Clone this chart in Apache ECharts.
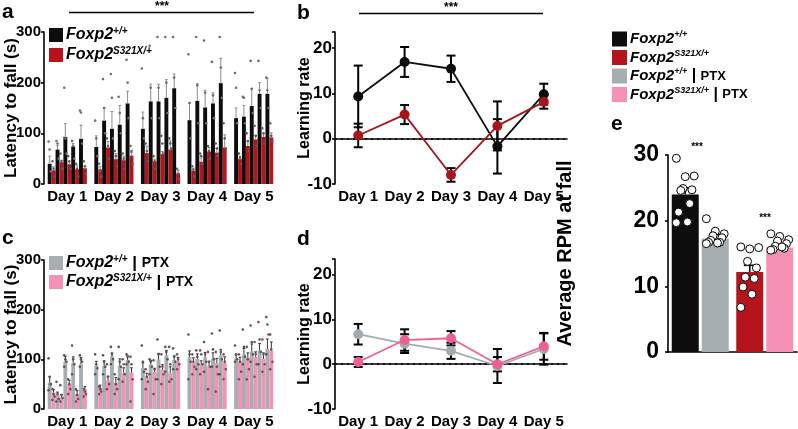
<!DOCTYPE html>
<html><head><meta charset="utf-8">
<script src="https://cdn.jsdelivr.net/npm/echarts@6/dist/echarts.min.js"></script>
<style>html,body{margin:0;padding:0;background:#fff}#c{width:798px;height:429px}</style>
</head><body><div id="c"></div>
<script>
// ---------- DATA ----------
const days = ['Day 1', 'Day 2', 'Day 3', 'Day 4', 'Day 5'];
const latencyTicks = [0, 100, 200, 300];
const rateTicks = [-10, 0, 10, 20];
const rpmTicks = [0, 10, 20, 30];

// panel a: latency to fall, rows = day, cols = trial 1..5
const wtLatency = [
  [40, 68, 93, 74, 89],
  [73, 125, 109, 117, 159],
  [109, 163, 163, 170, 189],
  [126, 164, 151, 159, 199],
  [130, 133, 154, 178, 178]
];
const wtLatencyErr = [
  [15, 8, 26, 6, 27],
  [22, 25, 34, 38, 24],
  [33, 34, 34, 36, 28],
  [34, 34, 34, 21, 49],
  [20, 22, 34, 22, 30]
];
const mutLatency = [
  [27, 43, 39, 29, 31],
  [29, 72, 49, 47, 56],
  [61, 45, 59, 68, 21],
  [26, 44, 64, 62, 72],
  [49, 75, 88, 93, 92]
];
const mutLatencyErr = [
  [7, 4, 5, 8, 4],
  [5, 12, 11, 8, 6],
  [14, 4, 5, 17, 6],
  [5, 7, 8, 9, 25],
  [6, 9, 8, 7, 9]
];
const wtDotsA = [
  [[84, 68, 25], [85, 80, 50], [190, 90, 60], [85, 75, 50], [145, 141, 80]],
  [[125, 90, 55], [207, 150, 100], [217, 170, 90], [172, 140, 100], [245, 200, 130]],
  [[228, 130, 90], [273, 190, 130], [290, 190, 130], [290, 200, 140], [290, 210, 150]],
  [[256, 160, 90], [290, 195, 120], [283, 180, 120], [241, 175, 130], [290, 230, 170]],
  [[219, 190, 120], [172, 170, 120], [243, 188, 140], [243, 185, 150], [210, 185, 150]]
];
const mutDotsA = [
  [[45, 30, 15], [60, 45, 30], [55, 45, 30], [40, 30, 15], [45, 35, 20]],
  [[40, 25, 15], [90, 75, 50], [65, 55, 35], [60, 50, 30], [75, 65, 40]],
  [[80, 65, 45], [55, 45, 30], [95, 80, 60], [90, 80, 70], [30, 20, 10]],
  [[35, 28, 15], [60, 55, 40], [75, 65, 50], [80, 70, 55], [120, 90, 70]],
  [[60, 52, 40], [100, 85, 65], [115, 95, 75], [110, 100, 80], [120, 95, 85]]
];

// panel b: learning rate
const wtRate = [9.3, 16.9, 15.4, -1.7, 9.8];
const wtRateErr = [6.8, 3.3, 2.9, 6.0, 2.3];
const mutRate = [0.7, 5.3, -8.0, 2.8, 8.1];
const mutRateErr = [2.6, 2.1, 1.5, 5.4, 1.5];

// panel c: latency to fall, PTX
const ptxWtLatency = [
  [53, 28, 96, 93, 90],
  [88, 87, 106, 87, 99],
  [83, 90, 100, 108, 99],
  [105, 101, 104, 101, 108],
  [101, 110, 116, 118, 121]
];
const ptxWtLatencyErr = [
  [12, 6, 10, 12, 14],
  [8, 10, 7, 14, 8],
  [10, 8, 12, 10, 8],
  [12, 10, 10, 12, 12],
  [8, 12, 15, 14, 20]
];
const ptxMutLatency = [
  [33, 24, 50, 30, 40],
  [42, 57, 53, 73, 73],
  [64, 74, 79, 73, 96],
  [93, 89, 86, 92, 93],
  [96, 103, 105, 101, 117]
];
const ptxMutLatencyErr = [
  [6, 5, 8, 7, 5],
  [6, 9, 10, 10, 10],
  [8, 8, 10, 12, 8],
  [10, 8, 10, 10, 12],
  [8, 10, 10, 12, 18]
];
const ptxWtDots = [
  [[102, 65, 50, 38], [55, 30, 20, 15], [108, 100, 95, 85], [128, 100, 90, 70], [108, 100, 95, 85]],
  [[110, 90, 82, 70], [108, 95, 85, 70], [125, 110, 100, 90], [125, 95, 85, 60], [110, 105, 95, 90]],
  [[128, 95, 75, 60], [100, 95, 85, 70], [140, 110, 85, 60], [125, 115, 100, 75], [122, 105, 95, 80]],
  [[150, 110, 95, 60], [118, 105, 90, 80], [135, 110, 95, 75], [152, 120, 100, 85], [158, 115, 100, 70]],
  [[128, 110, 100, 95], [160, 125, 105, 90], [168, 135, 110, 95], [175, 140, 115, 90], [185, 170, 150, 110]]
];
const ptxMutDots = [
  [[40, 30, 25, 18], [48, 28, 22, 15], [60, 50, 40, 30], [40, 28, 20, 15], [40, 35, 30, 25]],
  [[45, 40, 35, 30], [90, 65, 50, 40], [70, 50, 40, 30], [100, 90, 70, 55], [105, 90, 60, 15]],
  [[80, 65, 55, 40], [98, 80, 60, 30], [110, 85, 70, 50], [125, 90, 60, 55], [110, 100, 90, 80]],
  [[110, 95, 85, 70], [118, 110, 90, 70], [115, 95, 85, 40], [115, 85, 70, 35], [110, 95, 80, 60]],
  [[110, 95, 75, 60], [125, 100, 80, 60], [135, 110, 90, 65], [140, 110, 90, 75], [150, 120, 95, 80]]
];

// panel d: learning rate, PTX
const ptxWtRate = [6.7, 4.6, 3.0, -0.4, 3.4];
const ptxWtRateErr = [2.3, 2.1, 1.8, 3.8, 3.5];
const ptxMutRate = [0.5, 5.4, 5.8, 0.0, 4.0];
const ptxMutRateErr = [1.1, 2.4, 1.6, 1.6, 3.0];

// panel e: average RPM at fall
const rpmGroups = ['Foxp2+/+', 'Foxp2S321X/+'];
const rpmUntreated = [24.0, 12.2];
const rpmUntreatedErr = [1.0, 1.0];
const rpmPtx = [17.3, 15.9];
const rpmPtxErr = [0.6, 0.5];
const rpmDotsWt = [29.5, 26.7, 26.8, 24.9, 24.7, 24.6, 22.6, 21.3, 19.8, 19.7];
const rpmDotsWtPtx = [20.3, 18.4, 18.0, 17.7, 17.4, 17.0, 16.7, 16.7, 16.6, 16.5];
const rpmDotsMut = [16.0, 15.7, 15.9, 13.8, 12.8, 11.4, 11.2, 9.9, 8.8, 6.8];
const rpmDotsMutPtx = [18.0, 17.6, 17.1, 16.9, 16.5, 16.1, 15.8, 15.6, 16.0, 15.5];

// ---------- STYLE ----------
const FF = 'Liberation Sans, Arial, Helvetica, sans-serif';
const COL = {
  black: '#0d0d0d', red: '#b5141c', gray: '#a7aeb1', pink: '#f591b4',
  redLine: '#a5161c', pinkLine: '#ee6096', grayLine: '#a3abae'
};
const GAP = 0.16;
const NSLOT = 10;

const chart = echarts.init(document.getElementById('c'), null, { renderer: 'canvas' });

function slotGeom(api, d, s) {
  const w = api.size([1, 0])[0];
  const inner = w * (1 - GAP);
  const bw = inner / NSLOT;
  const cx = api.coord([d, 0])[0] - inner / 2 + bw * (s + 0.5);
  return { cx, bw };
}
function barErrRender(color) {
  return function (params, api) {
    const d = api.value(0), s = api.value(1), m = api.value(2), e = api.value(3);
    const g = slotGeom(api, d, s);
    const y0 = api.coord([d, m])[1], y1 = api.coord([d, m + e])[1];
    const hw = g.bw * 0.35;
    return { type: 'group', children: [
      { type: 'line', shape: { x1: g.cx, y1: y0, x2: g.cx, y2: y1 }, style: { stroke: color, lineWidth: 1 } },
      { type: 'line', shape: { x1: g.cx - hw, y1: y1, x2: g.cx + hw, y2: y1 }, style: { stroke: color, lineWidth: 1 } }
    ] };
  };
}
function dotRender(colors) {
  return function (params, api) {
    const d = api.value(0), s = api.value(1), v = api.value(2), k = api.value(3);
    const g = slotGeom(api, d, s);
    const jx = ((k % 3) - 1) * g.bw * 0.28;
    const y = api.coord([d, v])[1];
    return { type: 'circle', shape: { cx: g.cx + jx, cy: y, r: 1.3 }, style: { fill: colors[s % 2] } };
  };
}
function lineErrRender(params, api) {
  const d = api.value(0), m = api.value(1), e = api.value(2);
  const x = api.coord([d, m])[0];
  const yt = api.coord([d, m + e])[1], yb = api.coord([d, m - e])[1];
  const hw = 4.5;
  const st = { stroke: '#000', lineWidth: 2 };
  return { type: 'group', children: [
    { type: 'line', shape: { x1: x, y1: yt, x2: x, y2: yb }, style: st },
    { type: 'line', shape: { x1: x - hw, y1: yt, x2: x + hw, y2: yt }, style: st },
    { type: 'line', shape: { x1: x - hw, y1: yb, x2: x + hw, y2: yb }, style: st }
  ] };
}

function barPanel(gi, wt, wtErr, mut, mutErr, wtDots, mutDots, cW, cM, errColor, dotColors) {
  const out = [];
  for (let t = 0; t < 5; t++) {
    out.push({ type: 'bar', xAxisIndex: gi, yAxisIndex: gi, data: days.map((_, d) => wt[d][t]),
      itemStyle: { color: cW }, barGap: '0%', barCategoryGap: (GAP * 100) + '%', silent: true, z: 2 });
    out.push({ type: 'bar', xAxisIndex: gi, yAxisIndex: gi, data: days.map((_, d) => mut[d][t]),
      itemStyle: { color: cM }, barGap: '0%', barCategoryGap: (GAP * 100) + '%', silent: true, z: 2 });
  }
  const errData = [], dotData = [];
  for (let d = 0; d < 5; d++) for (let t = 0; t < 5; t++) {
    errData.push([d, t * 2, wt[d][t], wtErr[d][t]]);
    errData.push([d, t * 2 + 1, mut[d][t], mutErr[d][t]]);
    wtDots[d][t].forEach((v, k) => dotData.push([d, t * 2, v, k]));
    mutDots[d][t].forEach((v, k) => dotData.push([d, t * 2 + 1, v, k]));
  }
  out.push({ type: 'custom', xAxisIndex: gi, yAxisIndex: gi, data: errData, encode: { x: 0, y: 2 },
    renderItem: barErrRender(errColor), silent: true, z: 3 });
  out.push({ type: 'custom', xAxisIndex: gi, yAxisIndex: gi, data: dotData, encode: { x: 0, y: 2 },
    renderItem: dotRender(dotColors), silent: true, z: 4, clip: false });
  return out;
}
function linePanel(gi, s1, e1, c1, s2, e2, c2) {
  const zero = { silent: true, symbol: 'none', label: { show: false },
    lineStyle: { type: [2, 4], color: '#111', width: 2 }, data: [{ yAxis: 0 }] };
  return [
    { type: 'custom', xAxisIndex: gi, yAxisIndex: gi, data: days.map((_, d) => [d, s1[d], e1[d]]),
      encode: { x: 0, y: 1 }, renderItem: lineErrRender, silent: true, z: 3 },
    { type: 'custom', xAxisIndex: gi, yAxisIndex: gi, data: days.map((_, d) => [d, s2[d], e2[d]]),
      encode: { x: 0, y: 1 }, renderItem: lineErrRender, silent: true, z: 3 },
    { type: 'line', xAxisIndex: gi, yAxisIndex: gi, data: s1, symbol: 'circle', symbolSize: 10,
      lineStyle: { color: c1, width: 1.8 }, itemStyle: { color: c1 }, silent: true, z: 5, markLine: zero },
    { type: 'line', xAxisIndex: gi, yAxisIndex: gi, data: s2, symbol: 'circle', symbolSize: 10,
      lineStyle: { color: c2, width: 1.8 }, itemStyle: { color: c2 }, silent: true, z: 6 }
  ];
}

const axLine = { show: true, lineStyle: { color: '#000', width: 1.6 } };
const tick = { show: true, length: 3, lineStyle: { color: '#000', width: 1.6 } };
const lbl = (sz) => ({ color: '#000', fontFamily: FF, fontWeight: 'bold', fontSize: sz });

function catX(gi, showLine) {
  return { type: 'category', gridIndex: gi, data: days, axisLine: showLine ? axLine : { show: false },
    axisTick: { show: false }, axisLabel: Object.assign(lbl(15), { margin: 5, interval: 0 }) };
}
function valY(gi, min, max, interval, name, gap, lsz, nsz, lmargin) {
  return { type: 'value', gridIndex: gi, min, max, interval, splitLine: { show: false },
    axisLine: axLine, axisTick: tick,
    axisLabel: Object.assign(lbl(lsz), { margin: lmargin, formatter: v => (v % interval === 0 ? String(v) : '') }),
    name, nameLocation: 'middle', nameGap: gap, nameRotate: 90, nameMoveOverlap: false,
    nameTextStyle: { color: '#000', fontFamily: FF, fontWeight: 'bold', fontSize: nsz } };
}

// panel e series
const EBW = 27, EGAP = 3;
function eErr(params, api) {
  const c = api.value(0), s = api.value(1), m = api.value(2), e = api.value(3);
  const x = api.coord([c, 0])[0] + (s === 0 ? -1 : 1) * (EBW + EGAP) / 2;
  const y0 = api.coord([c, m])[1], y1 = api.coord([c, m + e])[1];
  const st = { stroke: '#000', lineWidth: 1.6 };
  return { type: 'group', children: [
    { type: 'line', shape: { x1: x, y1: y0, x2: x, y2: y1 }, style: st },
    { type: 'line', shape: { x1: x - 6, y1: y1, x2: x + 6, y2: y1 }, style: st }
  ] };
}
function eDot(params, api) {
  const c = api.value(0), s = api.value(1), v = api.value(2), k = api.value(3);
  const x = api.coord([c, 0])[0] + (s === 0 ? -1 : 1) * (EBW + EGAP) / 2;
  const jx = (((k * 4) % 9) - 4) / 4 * EBW * 0.33;
  const y = api.coord([c, v])[1];
  return { type: 'circle', shape: { cx: x + jx, cy: y, r: 4 }, style: { fill: '#fff', stroke: '#000', lineWidth: 1 } };
}
const eErrData = [
  [0, 0, rpmUntreated[0], rpmUntreatedErr[0]], [0, 1, rpmPtx[0], rpmPtxErr[0]],
  [1, 0, rpmUntreated[1], rpmUntreatedErr[1]], [1, 1, rpmPtx[1], rpmPtxErr[1]]
];
const eDotData = [];
rpmDotsWt.forEach((v, k) => eDotData.push([0, 0, v, k]));
rpmDotsWtPtx.forEach((v, k) => eDotData.push([0, 1, v, k]));
rpmDotsMut.forEach((v, k) => eDotData.push([1, 0, v, k]));
rpmDotsMutPtx.forEach((v, k) => eDotData.push([1, 1, v, k]));

let series = [];
series = series.concat(barPanel(0, wtLatency, wtLatencyErr, mutLatency, mutLatencyErr, wtDotsA, mutDotsA,
  COL.black, COL.red, '#8a8a8a', ['#6e6e6e', '#5e5e5e']));
series = series.concat(linePanel(1, wtRate, wtRateErr, COL.black, mutRate, mutRateErr, COL.redLine));
series = series.concat(barPanel(2, ptxWtLatency, ptxWtLatencyErr, ptxMutLatency, ptxMutLatencyErr, ptxWtDots, ptxMutDots,
  COL.gray, COL.pink, '#333', ['#555', '#7a4a5e']));
series = series.concat(linePanel(3, ptxWtRate, ptxWtRateErr, COL.grayLine, ptxMutRate, ptxMutRateErr, COL.pinkLine));
series.push({ type: 'bar', xAxisIndex: 4, yAxisIndex: 4, data: rpmUntreated.map((v, i) => ({ value: v, itemStyle: { color: i === 0 ? COL.black : COL.red } })),
  barWidth: EBW, barGap: (EGAP / EBW * 100) + '%', silent: true, z: 2 });
series.push({ type: 'bar', xAxisIndex: 4, yAxisIndex: 4, data: rpmPtx.map((v, i) => ({ value: v, itemStyle: { color: i === 0 ? COL.gray : COL.pink } })),
  barWidth: EBW, barGap: (EGAP / EBW * 100) + '%', silent: true, z: 2 });
series.push({ type: 'custom', xAxisIndex: 4, yAxisIndex: 4, data: eErrData, encode: { x: 0, y: 2 }, renderItem: eErr, silent: true, z: 3 });
series.push({ type: 'custom', xAxisIndex: 4, yAxisIndex: 4, data: eDotData, encode: { x: 0, y: 2 }, renderItem: eDot, silent: true, z: 4, clip: false });

// ---------- graphics (labels, legends, annotations) ----------
function txt(x, y, text, size, opts) {
  return Object.assign({ type: 'text', x, y, silent: true, z: 100,
    style: Object.assign({ text, fill: '#000', fontFamily: FF, fontWeight: 'bold', fontSize: size }, (opts || {})) });
}
function legendText(x, y, sup, ptx, fs) {
  const rich = {
    i: { fontFamily: FF, fontWeight: 'bold', fontStyle: 'italic', fontSize: fs, fill: '#000', lineHeight: fs + 2 },
    s: { fontFamily: FF, fontWeight: 'bold', fontStyle: 'italic', fontSize: Math.round(fs * 0.62), fill: '#000', verticalAlign: 'top', lineHeight: fs + 2 },
    p: { fontFamily: FF, fontWeight: 'bold', fontSize: Math.round(fs * 0.85), fill: '#000', lineHeight: fs + 2 },
    b: { fontFamily: FF, fontWeight: 'bold', fontSize: fs + 1, fill: '#000', lineHeight: fs + 2 }
  };
  let t = '{i|Foxp2}{s|' + sup + '}';
  if (ptx) t += '{b| | }{p|PTX}';
  return { type: 'text', x, y, silent: true, z: 100,
    style: { text: t, rich, verticalAlign: 'middle', align: 'left' } };
}
function legendRow(x, y, color, sup, ptx, sq, fs) {
  return [
    { type: 'rect', shape: { x: x, y: y - sq / 2, width: sq, height: sq }, style: { fill: color }, silent: true, z: 100 },
    legendText(x + sq + 3, y, sup, ptx, fs)
  ];
}

const graphics = [
  txt(2, 2, 'a', 21), txt(297, 3, 'b', 21), txt(2, 228, 'c', 21), txt(297, 229, 'd', 21), txt(611, 114, 'e', 21),
  { type: 'line', shape: { x1: 69, y1: 12.5, x2: 254, y2: 12.5 }, style: { stroke: '#000', lineWidth: 1.5 }, silent: true },
  txt(162, 1, '***', 12, { align: 'center' }),
  { type: 'line', shape: { x1: 359, y1: 13.5, x2: 543, y2: 13.5 }, style: { stroke: '#000', lineWidth: 1.5 }, silent: true },
  txt(451, 2, '***', 12, { align: 'center' }),
  txt(697, 142, '***', 10, { align: 'center' }),
  txt(765, 213, '***', 10, { align: 'center' })
].concat(
  legendRow(49, 35, COL.black, '+/+', false, 14, 16),
  legendRow(49, 55, COL.red, 'S321X/+', false, 14, 16),
  legendRow(49, 263, COL.gray, '+/+', true, 14, 16),
  legendRow(49, 282, COL.pink, 'S321X/+', true, 14, 16),
  legendRow(612, 39, COL.black, '+/+', false, 15, 15),
  legendRow(612, 57.5, COL.red, 'S321X/+', false, 15, 15),
  legendRow(612, 76, COL.gray, '+/+', true, 15, 15),
  legendRow(612, 94.5, COL.pink, 'S321X/+', true, 15, 15)
);

chart.setOption({
  animation: false,
  backgroundColor: '#fff',
  grid: [
    { left: 44, top: 32, width: 233, height: 152 },
    { left: 335, top: 32, width: 232, height: 152 },
    { left: 44, top: 260, width: 233, height: 152 },
    { left: 335, top: 259, width: 232, height: 153 },
    { left: 668, top: 155, width: 129, height: 197 }
  ],
  xAxis: [
    catX(0, false), catX(1, true), catX(2, false), catX(3, true),
    { type: 'category', gridIndex: 4, data: rpmGroups, axisLine: axLine, axisTick: { show: false }, axisLabel: { show: false } }
  ],
  yAxis: [
    valY(0, latencyTicks[0], latencyTicks[3], 100, 'Latency to fall (s)', 24, 15, 17, 3),
    valY(1, rateTicks[0], 23.5, 10, 'Learning rate', 22, 17, 16, 3),
    valY(2, latencyTicks[0], latencyTicks[3], 100, 'Latency to fall (s)', 24, 15, 17, 3),
    valY(3, rateTicks[0], 23.5, 10, 'Learning rate', 22, 17, 16, 3),
    valY(4, rpmTicks[0], rpmTicks[3], 10, 'Average RPM at fall', 93, 23, 20, 9)
  ],
  series,
  graphic: graphics
});
</script></body></html>
